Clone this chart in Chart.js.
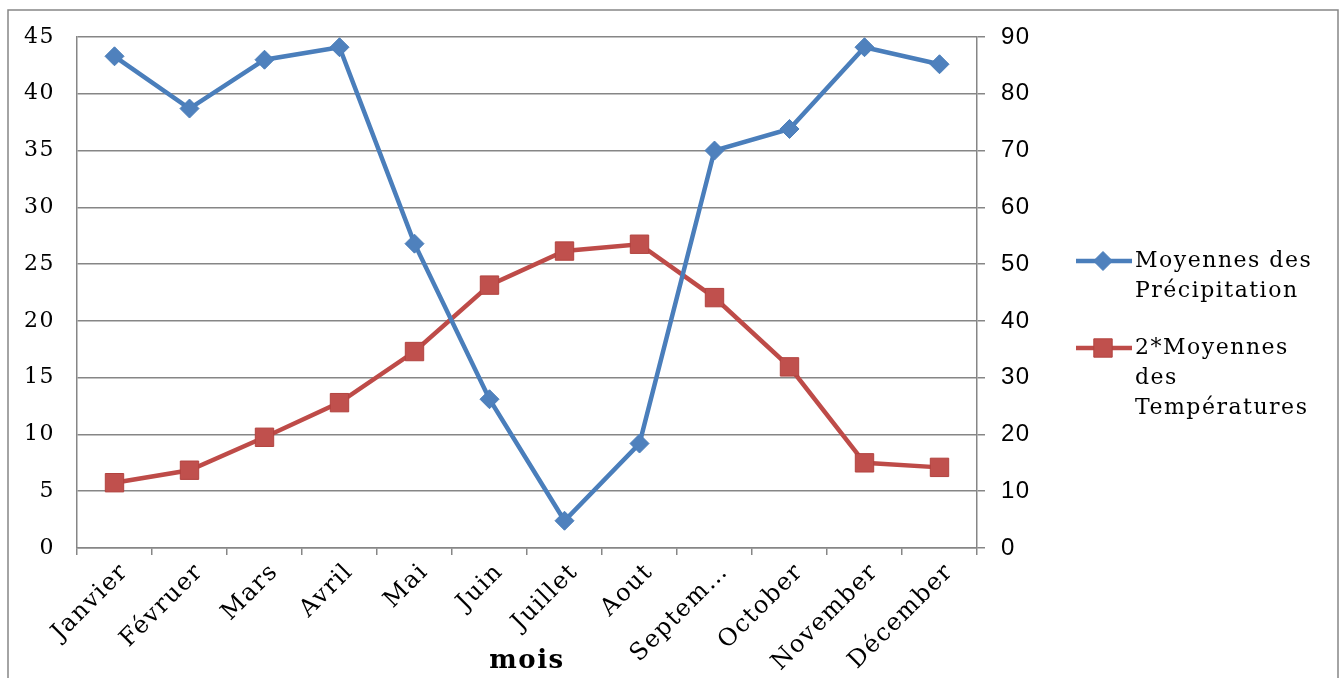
<!DOCTYPE html>
<html>
<head>
<meta charset="utf-8">
<script src="https://cdn.jsdelivr.net/npm/chart.js@4.4.1/dist/chart.umd.min.js"></script>
<style>
  html, body { margin: 0; padding: 0; background: #fff; }
  #wrap { width: 1343px; height: 678px; position: relative; }
</style>
</head>
<body>
<div id="wrap"><canvas id="myChart" width="1343" height="678"></canvas></div>
<script>
const mois = ['Janvier', 'Févruer', 'Mars', 'Avril', 'Mai', 'Juin', 'Juillet', 'Aout', 'Septem…', 'October', 'November', 'Décember']
const precipitations = [43.3, 38.7, 43.0, 44.1, 26.8, 13.1, 2.4, 9.2, 35.0, 36.9, 44.1, 42.6]
const temperaturesX2 = [11.5, 13.7, 19.5, 25.6, 34.6, 46.3, 52.3, 53.5, 44.1, 31.9, 15.0, 14.2]
const legendPrecip = ['Moyennes des', 'Précipitation']
const legendTemp = ['2*Moyennes', 'des', 'Températures']
const leftTicks = [0, 45, 5]
const rightTicks = [0, 90, 10]

const gris = 'rgb(134,134,134)'
const bleu = '#4A7EBB'
const rouge = '#BE4B48'

// cadre + espacement des lettres
const cadre = {
    id: 'cadre',
    beforeDraw(chart) {
        const ctx = chart.ctx
        ctx.save()
        ctx.fillStyle = '#fff'
        ctx.fillRect(0, 0, chart.width, chart.height)
        ctx.strokeStyle = gris
        ctx.lineWidth = 1.5
        ctx.beginPath()
        ctx.moveTo(8, chart.height + 5)
        ctx.lineTo(8, 10)
        ctx.lineTo(1338, 10)
        ctx.lineTo(1338, chart.height + 5)
        ctx.stroke()
        ctx.restore()
        ctx.letterSpacing = '1.5px'
    },
    afterDatasetsDraw(chart) {
        chart.ctx.letterSpacing = '0px'
    }
}

// légende à droite, sur plusieurs lignes
const legende = {
    id: 'legende',
    afterDraw(chart) {
        const ctx = chart.ctx
        const items = [
            {lines: legendPrecip, ds: chart.data.datasets[0], y: 261, r: 9.5},
            {lines: legendTemp, ds: chart.data.datasets[1], y: 348, r: 13}
        ]
        ctx.save()
        items.forEach(it => {
            ctx.strokeStyle = it.ds.borderColor
            ctx.lineWidth = 4.5
            ctx.beginPath()
            ctx.moveTo(1076, it.y)
            ctx.lineTo(1132, it.y)
            ctx.stroke()
            ctx.fillStyle = it.ds.pointBackgroundColor
            ctx.strokeStyle = it.ds.pointBorderColor
            ctx.lineWidth = 1
            Chart.helpers.drawPoint(ctx, {pointStyle: it.ds.pointStyle, rotation: 0, radius: it.r, borderWidth: 1}, 1103, it.y)
            ctx.fillStyle = '#000'
            ctx.letterSpacing = '1.5px'
            ctx.font = '22px "DejaVu Serif"'
            ctx.textBaseline = 'middle'
            ctx.textAlign = 'left'
            it.lines.forEach((t, i) => ctx.fillText(t, 1135, it.y + i * 30))
        })
        ctx.restore()
    }
}

const ctx = document.getElementById('myChart').getContext('2d')

const data = {
    labels: mois,
    datasets: [{
        label: legendPrecip.join(' '),
        data: precipitations,
        yAxisID: 'y',
        borderColor: bleu,
        borderWidth: 4.5,
        pointStyle: 'rectRot',
        pointRadius: 9.5,
        pointHoverRadius: 9.5,
        pointBackgroundColor: '#4F81BD',
        pointBorderColor: '#4A7EBB',
        pointBorderWidth: 1,
        tension: 0
    }, {
        label: legendTemp.join(' '),
        data: temperaturesX2,
        yAxisID: 'y1',
        borderColor: rouge,
        borderWidth: 4.5,
        pointStyle: 'rect',
        pointRadius: 13,
        pointHoverRadius: 13,
        pointBackgroundColor: '#C0504D',
        pointBorderColor: '#B2433F',
        pointBorderWidth: 1,
        tension: 0
    }]
}

const config = {
    type: 'line',
    data: data,
    options: {
        responsive: false,
        animation: false,
        layout: {padding: {left: 0, top: 37, right: 296, bottom: 0}},
        plugins: {
            legend: {display: false},
            tooltip: {enabled: false}
        },
        scales: {
            x: {
                offset: true,
                grid: {display: true, drawOnChartArea: false, drawTicks: true, tickLength: 7, color: gris, lineWidth: 1.5, offset: true},
                border: {display: true, color: gris, width: 1.5},
                ticks: {
                    color: '#000',
                    maxRotation: 45,
                    minRotation: 45,
                    autoSkip: false,
                    padding: 3,
                    labelOffset: 10,
                    font: {family: '"DejaVu Serif"', size: 24}
                },
                title: {
                    display: true,
                    text: 'mois',
                    color: '#000',
                    padding: {top: 0, bottom: 1},
                    font: {family: '"DejaVu Serif"', size: 26, weight: 'bold'}
                },
                afterFit: (scale) => { scale.height = 130 }
            },
            y: {
                position: 'left',
                min: leftTicks[0],
                max: leftTicks[1],
                ticks: {stepSize: leftTicks[2], color: '#000', padding: 22, font: {family: '"DejaVu Serif"', size: 22}},
                grid: {color: gris, lineWidth: 1.5, drawTicks: false},
                border: {display: true, color: gris, width: 1.5},
                afterFit: (scale) => { scale.width = 77 }
            },
            y1: {
                position: 'right',
                min: rightTicks[0],
                max: rightTicks[1],
                ticks: {stepSize: rightTicks[2], color: '#000', padding: 16, font: {family: '"Liberation Sans"', size: 24}},
                grid: {color: gris, lineWidth: 1.5, drawOnChartArea: false, drawTicks: true, tickLength: 8},
                border: {display: true, color: gris, width: 1.5},
                afterFit: (scale) => { scale.width = 70 }
            }
        }
    },
    plugins: [cadre, legende]
}

const myChart = new Chart(ctx, config)
</script>
</body>
</html>
